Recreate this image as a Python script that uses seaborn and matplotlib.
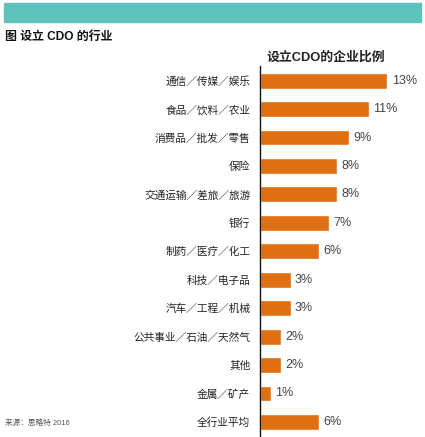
import matplotlib
matplotlib.use("Agg")
import matplotlib.pyplot as plt
import seaborn as sns
import pandas as pd
from matplotlib.patches import Rectangle

categories = ["通信／传媒／娱乐", "食品／饮料／农业", "消费品／批发／零售", "保险",
              "交通运输／差旅／旅游", "银行", "制药／医疗／化工", "科技／电子品",
              "汽车／工程／机械", "公共事业／石油／天然气", "其他", "金属／矿产", "全行业平均"]
values = [12.9, 11.0, 9.0, 7.8, 7.8, 7.0, 6.0, 3.1, 3.1, 2.1, 2.1, 1.1, 6.0]
value_labels = ["13%", "11%", "9%", "8%", "8%", "7%", "6%", "3%", "3%", "2%", "2%", "1%", "6%"]

sns.set_theme(style="white")
plt.rcParams["font.family"] = ["Liberation Sans", "Noto Sans CJK SC", "DejaVu Sans"]

df = pd.DataFrame({"category": categories, "value": values})

fig = plt.figure(figsize=(4.25, 4.37), dpi=100)
ax = fig.add_axes([260/425, 0.002, 160/425, 0.846])

sns.barplot(data=df, x="value", y="category", color="#E06E12", width=0.56,
            saturation=1, ax=ax)
ax.bar_label(ax.containers[0], labels=value_labels, padding=3, fontsize=9,
             color="#444444")

ax.set_xlim(0, 16.2)
ax.set_xlabel("")
ax.set_ylabel("")
ax.set_xticks([])
ax.tick_params(axis="y", length=0, pad=7, labelsize=7.7, labelcolor="#222222")
for s in ["top", "right", "bottom"]:
    ax.spines[s].set_visible(False)
ax.spines["left"].set_color("#111111")
ax.spines["left"].set_linewidth(1.0)
ax.set_facecolor("none")

# top teal band
fig.patches.append(Rectangle((4/425, 1 - 22/437), 417/425, 19/437,
                             transform=fig.transFigure, color="#5FC1BB", zorder=0))
fig.text(5/425, 1 - 37/437, "图 设立 CDO 的行业", fontsize=8.6, fontweight="bold",
         va="center", ha="left", color="#111111")
fig.text(326/425, 1 - 58/437, "设立CDO的企业比例", fontsize=9.3, fontweight="bold",
         va="center", ha="center", color="#222222")
fig.text(5/425, 1 - 423/437, "来源：思略特 2016", fontsize=5.5, va="center",
         ha="left", color="#555555")

fig.savefig("out.png", dpi=100)
